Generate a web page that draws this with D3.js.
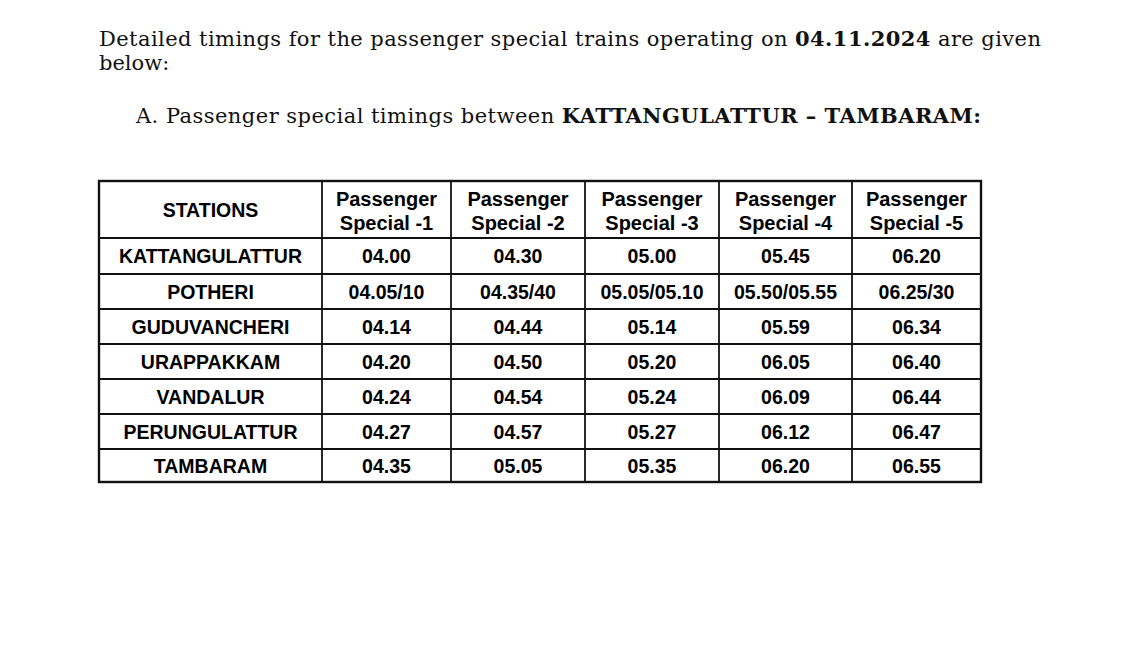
<!DOCTYPE html>
<html><head><meta charset="utf-8">
<script src="https://cdn.jsdelivr.net/npm/d3@7"></script>
<style>body{margin:0;background:#fff}</style>
</head><body>
<svg id="c" width="1125" height="649"></svg>
<script>
const stations=["KATTANGULATTUR","POTHERI","GUDUVANCHERI","URAPPAKKAM","VANDALUR","PERUNGULATTUR","TAMBARAM"];
const trains=["Special -1","Special -2","Special -3","Special -4","Special -5"];
const t1=["04.00","04.05/10","04.14","04.20","04.24","04.27","04.35"];
const t2=["04.30","04.35/40","04.44","04.50","04.54","04.57","05.05"];
const t3=["05.00","05.05/05.10","05.14","05.20","05.24","05.27","05.35"];
const t4=["05.45","05.50/05.55","05.59","06.05","06.09","06.12","06.20"];
const t5=["06.20","06.25/30","06.34","06.40","06.44","06.47","06.55"];
const series=[t1,t2,t3,t4,t5];

const svg=d3.select("#c");
const colEdges=[99,322,451,585,719,852,981];
const rowEdges=[181,238,274,309,344,379,414,449,482];
const serif="'DejaVu Serif',serif";
const p1=svg.append("text").attr("x",99).attr("y",46).attr("font-family",serif).attr("font-size",21).attr("fill","#111");
p1.append("tspan").text("Detailed timings for the passenger special trains operating on ");
p1.append("tspan").attr("font-weight","bold").text("04.11.2024");
p1.append("tspan").text(" are given");
p1.attr("textLength",942);
svg.append("text").attr("x",99).attr("y",70).attr("font-family",serif).attr("font-size",21).attr("fill","#111").text("below:");
const p2=svg.append("text").attr("x",136).attr("y",123).attr("font-family",serif).attr("font-size",21).attr("fill","#111");
p2.append("tspan").text("A.  Passenger special timings between ");
p2.append("tspan").attr("font-weight","bold").text("KATTANGULATTUR – TAMBARAM:");
p2.attr("textLength",845);

const g=svg.append("g").attr("font-family","'Liberation Sans',Arial,sans-serif").attr("font-weight","bold").attr("font-size",19.5).attr("fill","#000").attr("text-anchor","middle");
const cx=i=>(colEdges[i]+colEdges[i+1])/2;
const cy=j=>(rowEdges[j]+rowEdges[j+1])/2;
g.append("text").attr("x",cx(0)).attr("y",cy(0)+7).text("STATIONS");
trains.forEach((t,i)=>{
  g.append("text").attr("x",cx(i+1)).attr("y",cy(0)-4).attr("font-size",20).text("Passenger");
  g.append("text").attr("x",cx(i+1)).attr("y",cy(0)+20).attr("font-size",20).text(t);
});
stations.forEach((s,j)=>{
  g.append("text").attr("x",cx(0)).attr("y",cy(j+1)+7).text(s);
  series.forEach((arr,i)=>g.append("text").attr("x",cx(i+1)).attr("y",cy(j+1)+7).text(arr[j]));
});
const L=svg.append("g").attr("stroke","#111").attr("stroke-width",1.8);
colEdges.forEach(x=>L.append("line").attr("x1",x).attr("x2",x).attr("y1",rowEdges[0]).attr("y2",rowEdges[rowEdges.length-1]));
rowEdges.forEach(y=>L.append("line").attr("x1",colEdges[0]).attr("x2",colEdges[colEdges.length-1]).attr("y1",y).attr("y2",y));
svg.append("rect").attr("x",99).attr("y",181).attr("width",882).attr("height",301).attr("fill","none").attr("stroke","#111").attr("stroke-width",2.4);
</script>
</body></html>
